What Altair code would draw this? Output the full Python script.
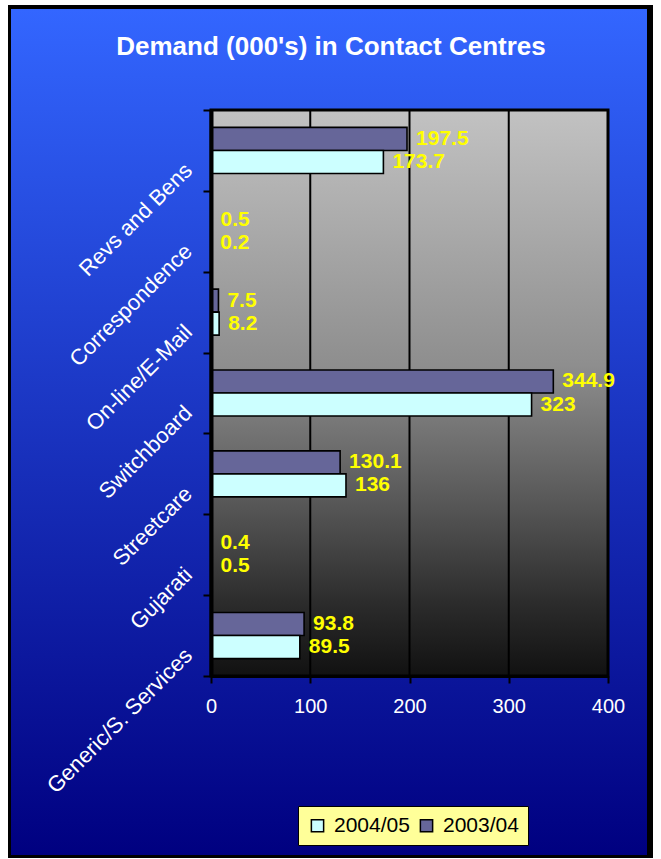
import altair as alt
import pandas as pd

title_text = "Demand (000's) in Contact Centres"
categories = ["Revs and Bens", "Correspondence", "On-line/E-Mail", "Switchboard",
              "Streetcare", "Gujarati", "Generic/S. Services"]
series = ["2004/05", "2003/04"]
values_2003_04 = [197.5, 0.5, 7.5, 344.9, 130.1, 0.4, 93.8]
values_2004_05 = [173.7, 0.2, 8.2, 323, 136, 0.5, 89.5]
x_ticks = [0, 100, 200, 300, 400]
grid_ticks = [100, 200, 300]

rows = []
for c, a, b in zip(categories, values_2003_04, values_2004_05):
    rows.append({"cat": c, "series": "2003/04", "value": a, "label": f"{a:g}"})
    rows.append({"cat": c, "series": "2004/05", "value": b, "label": f"{b:g}"})
df = pd.DataFrame(rows)

W, H = 397, 566
FONT = "Liberation Sans"

dummy = alt.Data(values=[{"k": 0}])

frame = alt.Chart(dummy).mark_rect(fill="black").encode(
    x=alt.value(-203), x2=alt.value(442), y=alt.value(-105), y2=alt.value(748))

blue = alt.Chart(dummy).mark_rect(
    fill=alt.LinearGradient(gradient="linear", x1=0, y1=0, x2=0, y2=1,
                            stops=[alt.GradientStop(color="#3366FF", offset=0),
                                   alt.GradientStop(color="#000080", offset=1)])
).encode(x=alt.value(-200), x2=alt.value(436), y=alt.value(-101), y2=alt.value(745))

title = alt.Chart(dummy).mark_text(
    text=title_text, color="white", font=FONT, fontSize=26, fontWeight="bold",
    align="center", baseline="middle"
).encode(x=alt.value(120), y=alt.value(-63))

plotbg = alt.Chart(dummy).mark_rect(
    fill=alt.LinearGradient(gradient="linear", x1=0, y1=0, x2=0, y2=1,
                            stops=[alt.GradientStop(color="#C2C2C2", offset=0),
                                   alt.GradientStop(color="#8E8E8E", offset=0.45),
                                   alt.GradientStop(color="#565656", offset=0.7),
                                   alt.GradientStop(color="#2C2C2C", offset=0.87),
                                   alt.GradientStop(color="#111111", offset=1)]),
    stroke="black", strokeWidth=3
).encode(x=alt.value(0), x2=alt.value(W), y=alt.value(0), y2=alt.value(H))

xscale = alt.Scale(domain=[0, 400], nice=False)
yscale = alt.Scale(domain=categories, paddingInner=0, paddingOuter=0)

grid = alt.Chart(pd.DataFrame({"t": grid_ticks})).mark_rule(
    color="black", strokeWidth=2
).encode(
    x=alt.X("t:Q", scale=xscale),
    y=alt.value(0), y2=alt.value(H))

base = alt.Chart(df)

bars = base.mark_bar(stroke="black", strokeWidth=1.6).encode(
    x=alt.X("value:Q", scale=xscale,
            axis=alt.Axis(values=x_ticks, title=None, grid=False, zindex=1,
                          domain=True, domainColor="black", domainWidth=3,
                          ticks=True, tickColor="black", tickWidth=2, tickSize=7,
                          labelColor="white", labelFont=FONT, labelFontSize=20,
                          labelPadding=13, labelFlush=False)),
    y=alt.Y("cat:N", scale=yscale, sort=categories,
            axis=alt.Axis(title=None, zindex=1, tickBand="extent",
                          domain=True, domainColor="black", domainWidth=4,
                          ticks=True, tickColor="black", tickWidth=2, tickSize=8,
                          labelColor="white", labelFont=FONT, labelFontSize=22,
                          labelAngle=-45, labelAlign="right", labelBaseline="middle",
                          labelOffset=16, labelPadding=15, labelLimit=400)),
    yOffset=alt.YOffset("series:N", sort=["2003/04", "2004/05"],
                        scale=alt.Scale(paddingInner=0, paddingOuter=0.757)),
    color=alt.Color("series:N",
                    scale=alt.Scale(domain=series, range=["#CCFFFF", "#666699"]),
                    legend=alt.Legend(title=None, orient="none", legendX=87, legendY=696,
                                      direction="horizontal", fillColor="#FFFF99",
                                      strokeColor="black", padding=9,
                                      symbolType="square", symbolSize=150,
                                      symbolStrokeColor="black", symbolStrokeWidth=1.5,
                                      labelFont=FONT, labelFontSize=21, labelColor="black",
                                      labelOffset=6, columnPadding=6)),
)

labels = base.mark_text(
    align="left", baseline="middle", dx=9, color="#FFFF00",
    font=FONT, fontSize=21, fontWeight="bold"
).encode(
    x=alt.X("value:Q", scale=xscale),
    y=alt.Y("cat:N", scale=yscale, sort=categories),
    yOffset=alt.YOffset("series:N", sort=["2003/04", "2004/05"],
                        scale=alt.Scale(paddingInner=0, paddingOuter=0.757)),
    text="label:N",
)

chart = alt.layer(frame, blue, title, plotbg, grid, bars, labels).properties(
    width=W, height=H,
    autosize=alt.AutoSizeParams(type="none"),
    padding={"left": 211, "top": 110, "right": 53, "bottom": 183},
    background="white",
).configure_view(stroke=None)

chart.save("out.html", embed_options={"renderer": "svg", "actions": False})
